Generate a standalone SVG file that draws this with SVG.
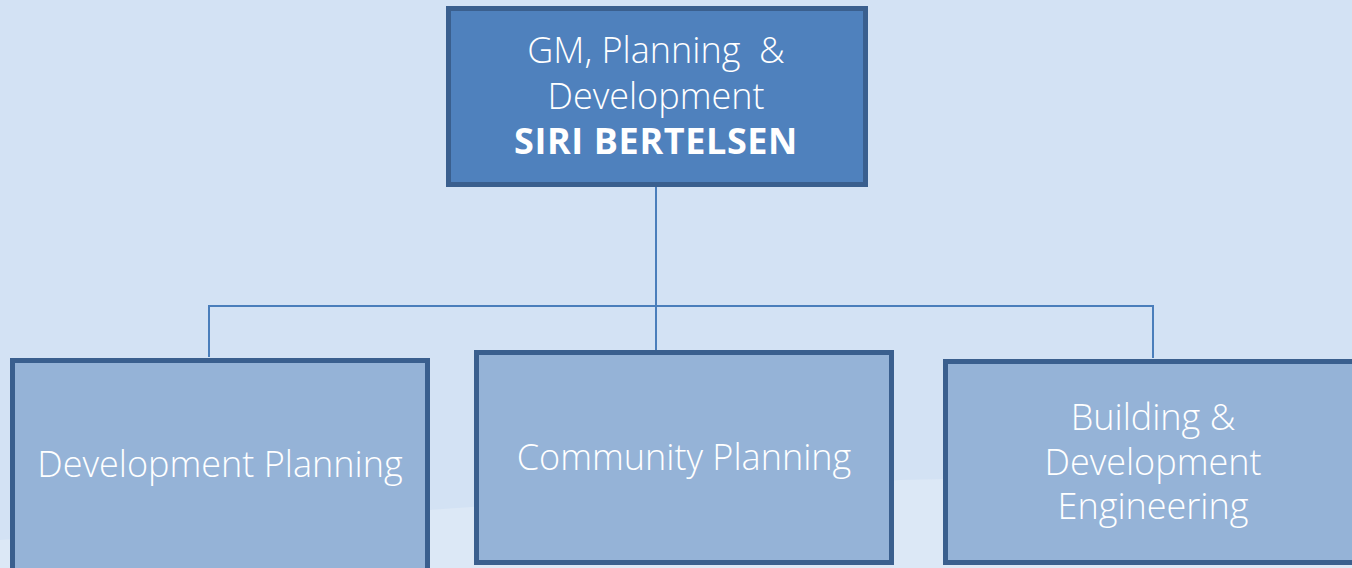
<svg xmlns="http://www.w3.org/2000/svg" width="1352" height="568" viewBox="0 0 1352 568">
<style>
.box{stroke:#3A5F8E;stroke-width:5}
.top{fill:#4F81BD}
.sub{fill:#95B3D7}
.t{font-family:"Open Sans","Liberation Sans",sans-serif;font-weight:300;font-size:36px;fill:#FFFFFF;text-anchor:middle}
.b{font-weight:700;font-size:36px;letter-spacing:0.6px}
.c{stroke:#4A7EBB;stroke-width:2;fill:none}
</style>
<rect x="0" y="0" width="1352" height="568" fill="#D3E2F4"/>
<path d="M0 540 L500 505 L900 480 L1352 470 L1352 568 L0 568 Z" fill="#DCE8F6"/>
<g id="connectors">
<path class="c" d="M656 186 V352 M209 357 V306 H1153 V358"/>
</g>
<g id="gm">
<rect class="box top" x="448.5" y="8.5" width="417" height="176"/>
<text class="t" x="656" y="63">GM, Planning&#160; &amp;</text>
<text class="t" x="656" y="109">Development</text>
<text class="t b" x="656" y="154">SIRI BERTELSEN</text>
</g>
<g id="devplan">
<rect class="box sub" x="12.5" y="360.5" width="415" height="212"/>
<text class="t" x="220" y="477">Development Planning</text>
</g>
<g id="commplan">
<rect class="box sub" x="476.5" y="352.5" width="415" height="210"/>
<text class="t" x="684" y="470">Community Planning</text>
</g>
<g id="bde">
<rect class="box sub" x="945.5" y="361.5" width="420" height="201"/>
<text class="t" x="1153" y="430">Building &amp;</text>
<text class="t" x="1153" y="475">Development</text>
<text class="t" x="1153" y="519">Engineering</text>
</g>
</svg>
